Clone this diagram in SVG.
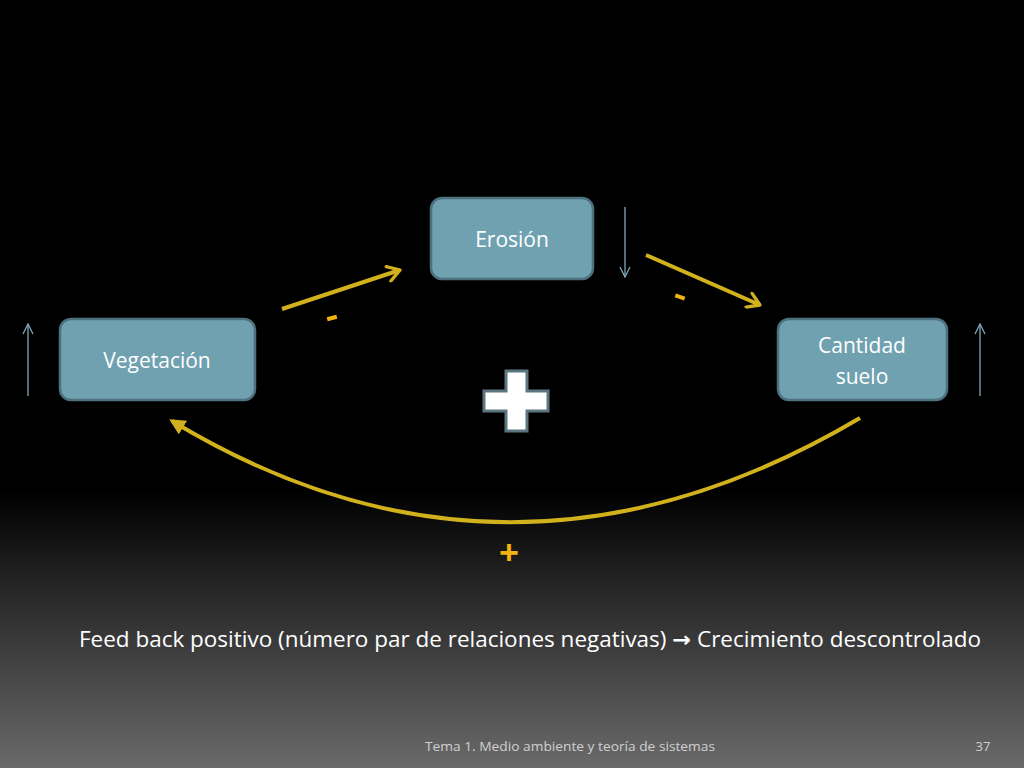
<svg xmlns="http://www.w3.org/2000/svg" width="1024" height="768" viewBox="0 0 1024 768">
<defs>
<linearGradient id="bg" x1="0" y1="0" x2="0" y2="1">
<stop offset="0" stop-color="#000"/>
<stop offset="1" stop-color="#6a6a6a"/>
</linearGradient>
<marker id="chev" viewBox="0 0 12 12" refX="10" refY="6" markerWidth="4.5" markerHeight="4.5" orient="auto" markerUnits="strokeWidth">
<path d="M2,1 L10,6 L2,11" fill="none" stroke="#d2b21c" stroke-width="2.2" stroke-linecap="round" stroke-linejoin="round"/>
</marker>
<marker id="tri" viewBox="0 0 10 10" refX="8" refY="5" markerWidth="4" markerHeight="4" orient="auto" markerUnits="strokeWidth">
<path d="M0,0 L10,5 L0,10 Z" fill="#d2b21c"/>
</marker>
<marker id="thin" viewBox="0 0 12 12" refX="11" refY="6" markerWidth="12" markerHeight="12" orient="auto" markerUnits="userSpaceOnUse">
<path d="M1,1 L11,6 L1,11" fill="none" stroke="#7fa9b8" stroke-width="1.3"/>
</marker>
</defs>
<style>
.node rect{fill:#6fa1b1;stroke:#4d717e;stroke-width:2.5}
.node text{fill:#ffffff;font-family:"Open Sans","Liberation Sans",sans-serif;font-size:21px;text-anchor:middle}
.yl{stroke:#d2b21c;stroke-width:4;fill:none}
.bl{stroke:#7fa9b8;stroke-width:1.3;fill:none}
.sign{fill:#f2b40c;font-family:"Liberation Sans",sans-serif;font-weight:bold;text-anchor:middle}
</style>
<rect x="0" y="0" width="1024" height="768" fill="#000"/>
<rect x="0" y="490" width="1024" height="278" fill="url(#bg)"/>

<g id="connectors">
<line class="yl" x1="282" y1="309" x2="400" y2="270" marker-end="url(#chev)"/>
<line class="yl" x1="646" y1="255" x2="760" y2="305" marker-end="url(#chev)"/>
<path class="yl" d="M860,418 Q510,625 172,421" marker-end="url(#tri)"/>
</g>

<g id="trend-arrows">
<line class="bl" x1="28" y1="396" x2="28" y2="324" marker-end="url(#thin)"/>
<line class="bl" x1="980" y1="396" x2="980" y2="324" marker-end="url(#thin)"/>
<line class="bl" x1="625" y1="207" x2="625" y2="277" marker-end="url(#thin)"/>
</g>

<g id="node-erosion" class="node">
<rect x="431" y="198" width="162" height="81" rx="11"/>
<text x="512" y="247">Erosión</text>
</g>
<g id="node-vegetacion" class="node">
<rect x="60" y="319" width="195" height="81" rx="11"/>
<text x="157" y="368">Vegetación</text>
</g>
<g id="node-suelo" class="node">
<rect x="778" y="319" width="169" height="81" rx="11"/>
<text x="862" y="353">Cantidad</text>
<text x="862" y="384">suelo</text>
</g>

<g id="big-plus">
<path d="M506,371 H527 V391 H548 V411 H527 V431 H506 V411 H484 V391 H506 Z" fill="#ffffff" stroke="#5c7680" stroke-width="3"/>
</g>

<g id="signs">
<rect x="327" y="316" width="10" height="4" fill="#f2b40c" transform="rotate(-15 332 318)"/>
<rect x="675" y="295" width="10" height="4" fill="#f2b40c" transform="rotate(20 680 297)"/>
<text class="sign" x="509" y="564" font-size="34">+</text>
</g>

<text x="530" y="647" fill="#ffffff" font-family="Open Sans,Liberation Sans,sans-serif" font-size="21" text-anchor="middle" textLength="902" lengthAdjust="spacingAndGlyphs">Feed back positivo (número par de relaciones negativas) <tspan font-family="DejaVu Sans,sans-serif" font-weight="bold">→</tspan> Crecimiento descontrolado</text>
<text x="570" y="751" fill="#d0d0d0" font-family="Open Sans,Liberation Sans,sans-serif" font-size="13" text-anchor="middle" textLength="290" lengthAdjust="spacingAndGlyphs">Tema 1. Medio ambiente y teoría de sistemas</text>
<text x="983" y="751" fill="#d0d0d0" font-family="Open Sans,Liberation Sans,sans-serif" font-size="13" text-anchor="middle">37</text>
</svg>
